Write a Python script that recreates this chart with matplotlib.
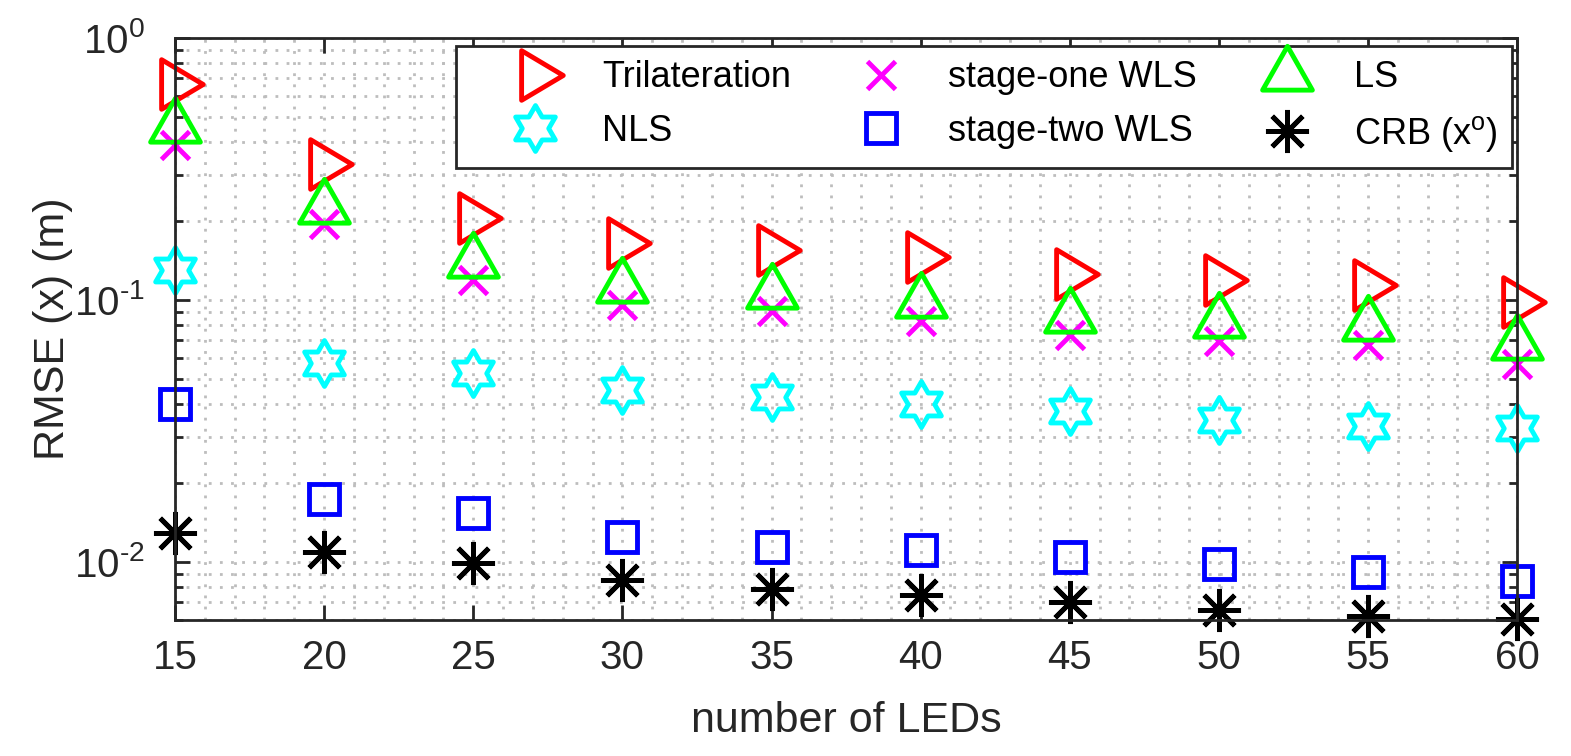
import numpy as np
import matplotlib
matplotlib.use("Agg")
import matplotlib.pyplot as plt
from matplotlib.path import Path
from matplotlib.markers import MarkerStyle
from matplotlib.ticker import LogLocator, NullFormatter, MultipleLocator, FuncFormatter

plt.rcParams['font.family'] = ['Liberation Sans', 'DejaVu Sans']
plt.rcParams['mathtext.fontset'] = 'custom'
plt.rcParams['mathtext.rm'] = 'Liberation Sans'
plt.rcParams['mathtext.it'] = 'Liberation Sans:italic'
plt.rcParams['mathtext.bf'] = 'Liberation Sans:bold'
plt.rcParams['axes.unicode_minus'] = False

# data
num_leds = [15, 20, 25, 30, 35, 40, 45, 50, 55, 60]
trilateration = [0.668, 0.330, 0.206, 0.165, 0.155, 0.146, 0.126, 0.119, 0.114, 0.0983]
nls = [0.130, 0.0575, 0.0527, 0.0453, 0.0426, 0.0401, 0.0377, 0.0348, 0.0330, 0.0325]
wls_one = [0.391, 0.195, 0.119, 0.0957, 0.0908, 0.0832, 0.0735, 0.0698, 0.0673, 0.0570]
wls_two = [0.0401, 0.0174, 0.0154, 0.0124, 0.0114, 0.0111, 0.0104, 0.00982, 0.00916, 0.00846]
ls = [0.457, 0.224, 0.140, 0.112, 0.106, 0.0983, 0.0861, 0.0824, 0.0799, 0.0679]
crb = [0.0129, 0.0109, 0.00991, 0.00854, 0.00789, 0.00748, 0.00704, 0.00656, 0.00622, 0.00606]

x_ticks = [15, 20, 25, 30, 35, 40, 45, 50, 55, 60]


def closed_marker(verts):
    verts = np.vstack([verts, verts[:1]])
    return MarkerStyle(Path(verts, closed=True), joinstyle='miter')


def pow10_label(v, pos):
    # hyphen instead of a wide math minus, like the original
    return '10$^{\\text{%d}}$' % int(round(np.log10(v)))


# matlab-like triangles, placed on their centroid
tri_right = closed_marker(np.array([[-14, -25], [-14, 25], [28, 0]], float))
tri_up = closed_marker(np.array([[-25, -14.7], [25, -14.7], [0, 29.3]], float))

# six pointed star (hexagram)
ang = np.deg2rad(90 + 30 * np.arange(12))
rad = np.where(np.arange(12) % 2 == 0, 1.0, 1 / np.sqrt(3))
hexagram = closed_marker(np.column_stack([rad * np.cos(ang), rad * np.sin(ang)]))

fig = plt.figure(figsize=(15.71, 7.56), dpi=100)
ax = fig.add_axes([0.1114, 0.1799, 0.8543, 0.7700])

mew = 3.5
style = dict(linestyle='none', markerfacecolor='none', markeredgewidth=mew, clip_on=False)
h1, = ax.plot(num_leds, trilateration, marker=tri_right, markersize=40,
              markeredgecolor='#ff0000', label='Trilateration', **style)
h2, = ax.plot(num_leds, nls, marker=hexagram, markersize=33,
              markeredgecolor='#00ffff', label='NLS', **style)
h3, = ax.plot(num_leds, wls_one, marker='x', markersize=20,
              markeredgecolor='#ff00ff', label='stage-one WLS', **style)
h4, = ax.plot(num_leds, wls_two, marker='s', markersize=22,
              markeredgecolor='#0000ff', label='stage-two WLS', **style)
h5, = ax.plot(num_leds, ls, marker=tri_up, markersize=42,
              markeredgecolor='#00ff00', label='LS', **style)
h6, = ax.plot(num_leds, crb, marker=(8, 2, 0), markersize=31,
              markeredgecolor='#000000', label='CRB (x$^\\mathregular{o}$)', **style)

ax.set_yscale('log')
ax.set_xlim(15, 60)
ax.set_ylim(0.006, 1)
ax.set_xticks(x_ticks)
ax.xaxis.set_minor_locator(MultipleLocator(1))
ax.yaxis.set_major_locator(LogLocator(base=10, numticks=10))
ax.yaxis.set_major_formatter(FuncFormatter(pow10_label))
ax.yaxis.set_minor_locator(LogLocator(base=10, subs=np.arange(2, 10), numticks=20))
ax.yaxis.set_minor_formatter(NullFormatter())

axis_col = '#262626'
for sp in ax.spines.values():
    sp.set_linewidth(2)
    sp.set_color(axis_col)
ax.tick_params(which='both', direction='in', top=True, right=True, width=2, color=axis_col,
               labelcolor=axis_col, labelsize=29)
ax.tick_params(which='major', length=10.5)
ax.tick_params(which='minor', length=6)
ax.tick_params(axis='x', which='minor', length=0)
ax.tick_params(axis='x', pad=14)
ax.tick_params(axis='y', pad=22)

ax.grid(True, which='both', color='#bdbdbd', linestyle=(0, (1, 3)), linewidth=2)
ax.set_axisbelow(True)

ax.set_xlabel('number of LEDs', fontsize=31, color=axis_col)
ax.set_ylabel('RMSE (x) (m)', fontsize=31, color=axis_col)
ax.xaxis.set_label_coords(0.5, -0.14)
ax.yaxis.set_label_coords(-0.076, 0.5)

leg = ax.legend(handles=[h1, h2, h3, h4, h5, h6], ncol=3, loc='upper right',
                bbox_to_anchor=(0.9963, 0.986), borderaxespad=0, fontsize=26,
                numpoints=1, handlelength=3.6, handletextpad=0.05, columnspacing=0.7,
                labelspacing=0.5, borderpad=0.4, fancybox=False, framealpha=1)
leg.get_frame().set_linewidth(2)
leg.get_frame().set_edgecolor(axis_col)

fig.savefig('out.png', dpi=100)
